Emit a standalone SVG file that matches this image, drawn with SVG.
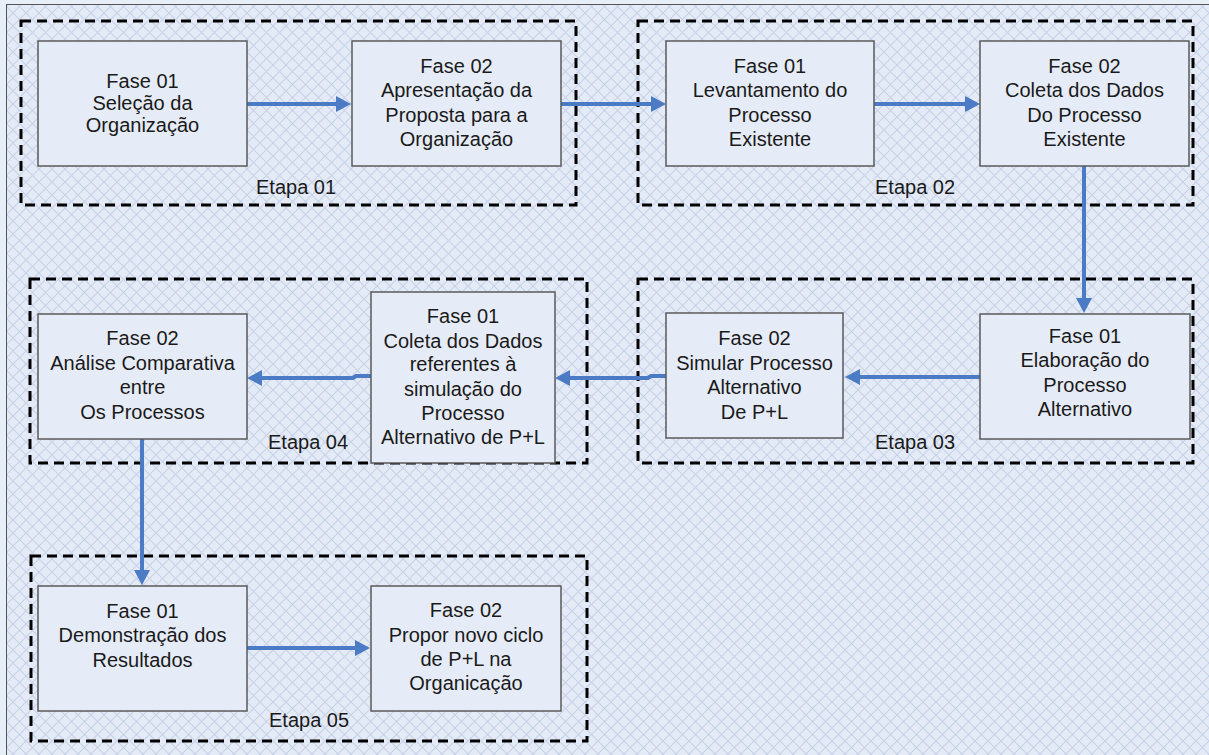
<svg xmlns="http://www.w3.org/2000/svg" width="1209" height="755" viewBox="0 0 1209 755">
<style>
.box{fill:#e6ecf7;stroke:#5a5a5a;stroke-width:1.5}
.stage{fill:none;stroke:#000;stroke-width:3;stroke-dasharray:10 6}
.t{font-family:"Liberation Sans",Arial,sans-serif;font-size:20px;fill:#1a1a1a;text-anchor:middle}
.lbl{font-family:"Liberation Sans",Arial,sans-serif;font-size:20px;fill:#1a1a1a}
.con{fill:none;stroke:#4a7bc4;stroke-width:4;marker-end:url(#ah)}
</style>
<defs>
<pattern id="hatch" width="13" height="13" patternUnits="userSpaceOnUse">
<rect width="13" height="13" fill="#e5ebf6"/>
<path d="M0,0 L13,13 M13,0 L0,13" stroke="#c5d2e9" stroke-width="1.1"/>
</pattern>
<marker id="ah" markerUnits="userSpaceOnUse" viewBox="0 0 15 16" markerWidth="15" markerHeight="16" refX="3" refY="8" orient="auto">
<path d="M0,0 L15,8 L0,16 z" fill="#4a7bc4"/>
</marker>
</defs>
<rect width="1209" height="755" fill="#e8eef8"/>
<rect x="6.5" y="4.5" width="1210" height="760" fill="url(#hatch)" stroke="#555" stroke-width="1"/>

<g id="etapa01">
<rect class="stage" x="21" y="21" width="555" height="184"/>
<text class="lbl" x="256" y="194">Etapa 01</text>
</g>
<g id="etapa02">
<rect class="stage" x="638" y="21" width="555" height="184"/>
<text class="lbl" x="875" y="194">Etapa 02</text>
</g>
<g id="etapa03">
<rect class="stage" x="638" y="279" width="555" height="184"/>
<text class="lbl" x="875" y="449">Etapa 03</text>
</g>
<g id="etapa04">
<rect class="stage" x="30" y="279" width="557" height="184"/>
<text class="lbl" x="268" y="449">Etapa 04</text>
</g>
<g id="etapa05">
<rect class="stage" x="31" y="556" width="556" height="185"/>
<text class="lbl" x="269" y="727">Etapa 05</text>
</g>

<g id="connectors">
<path class="con" d="M247,104 H339"/>
<path class="con" d="M561,104 H654"/>
<path class="con" d="M874,104 H968"/>
<path class="con" d="M1084,166 V301"/>
<path class="con" d="M980,377 H857"/>
<path class="con" d="M666,376 H651 L648,378 H567"/>
<path class="con" d="M371,376 H356 L353,378 H259"/>
<path class="con" d="M142,439 V573"/>
<path class="con" d="M247,648 H358"/>
</g>

<g id="s1f1">
<rect class="box" x="38" y="41" width="209" height="125"/>
<text class="t" x="142.5" y="88">Fase 01</text>
<text class="t" x="142.5" y="110">Seleção da</text>
<text class="t" x="142.5" y="132">Organização</text>
</g>
<g id="s1f2">
<rect class="box" x="352" y="41" width="209" height="125"/>
<text class="t" x="456.5" y="73">Fase 02</text>
<text class="t" x="456.5" y="97">Apresentação da</text>
<text class="t" x="456.5" y="122">Proposta para a</text>
<text class="t" x="456.5" y="146">Organização</text>
</g>
<g id="s2f1">
<rect class="box" x="666" y="41" width="208" height="125"/>
<text class="t" x="770" y="73">Fase 01</text>
<text class="t" x="770" y="97">Levantamento do</text>
<text class="t" x="770" y="122">Processo</text>
<text class="t" x="770" y="146">Existente</text>
</g>
<g id="s2f2">
<rect class="box" x="980" y="41" width="209" height="125"/>
<text class="t" x="1084.5" y="73">Fase 02</text>
<text class="t" x="1084.5" y="97">Coleta dos Dados</text>
<text class="t" x="1084.5" y="122">Do Processo</text>
<text class="t" x="1084.5" y="146">Existente</text>
</g>
<g id="s3f1">
<rect class="box" x="980" y="314" width="210" height="125"/>
<text class="t" x="1085" y="343">Fase 01</text>
<text class="t" x="1085" y="367">Elaboração do</text>
<text class="t" x="1085" y="392">Processo</text>
<text class="t" x="1085" y="416">Alternativo</text>
</g>
<g id="s3f2">
<rect class="box" x="666" y="313" width="177" height="125"/>
<text class="t" x="754.5" y="345">Fase 02</text>
<text class="t" x="754.5" y="370">Simular Processo</text>
<text class="t" x="754.5" y="394">Alternativo</text>
<text class="t" x="754.5" y="419">De P+L</text>
</g>
<g id="s4f1">
<rect class="box" x="371" y="292" width="184" height="171"/>
<text class="t" x="463" y="323">Fase 01</text>
<text class="t" x="463" y="347.5">Coleta dos Dados</text>
<text class="t" x="463" y="371">referentes à</text>
<text class="t" x="463" y="395.5">simulação do</text>
<text class="t" x="463" y="419.5">Processo</text>
<text class="t" x="463" y="444">Alternativo de P+L</text>
</g>
<g id="s4f2">
<rect class="box" x="38" y="314" width="209" height="125"/>
<text class="t" x="142.5" y="345">Fase 02</text>
<text class="t" x="142.5" y="370">Análise Comparativa</text>
<text class="t" x="142.5" y="394">entre</text>
<text class="t" x="142.5" y="419">Os Processos</text>
</g>
<g id="s5f1">
<rect class="box" x="38" y="586" width="209" height="125"/>
<text class="t" x="142.5" y="618">Fase 01</text>
<text class="t" x="142.5" y="642">Demonstração dos</text>
<text class="t" x="142.5" y="667">Resultados</text>
</g>
<g id="s5f2">
<rect class="box" x="371" y="586" width="190" height="125"/>
<text class="t" x="466" y="617">Fase 02</text>
<text class="t" x="466" y="642">Propor novo ciclo</text>
<text class="t" x="466" y="666">de P+L na</text>
<text class="t" x="466" y="690">Organicação</text>
</g>
</svg>
